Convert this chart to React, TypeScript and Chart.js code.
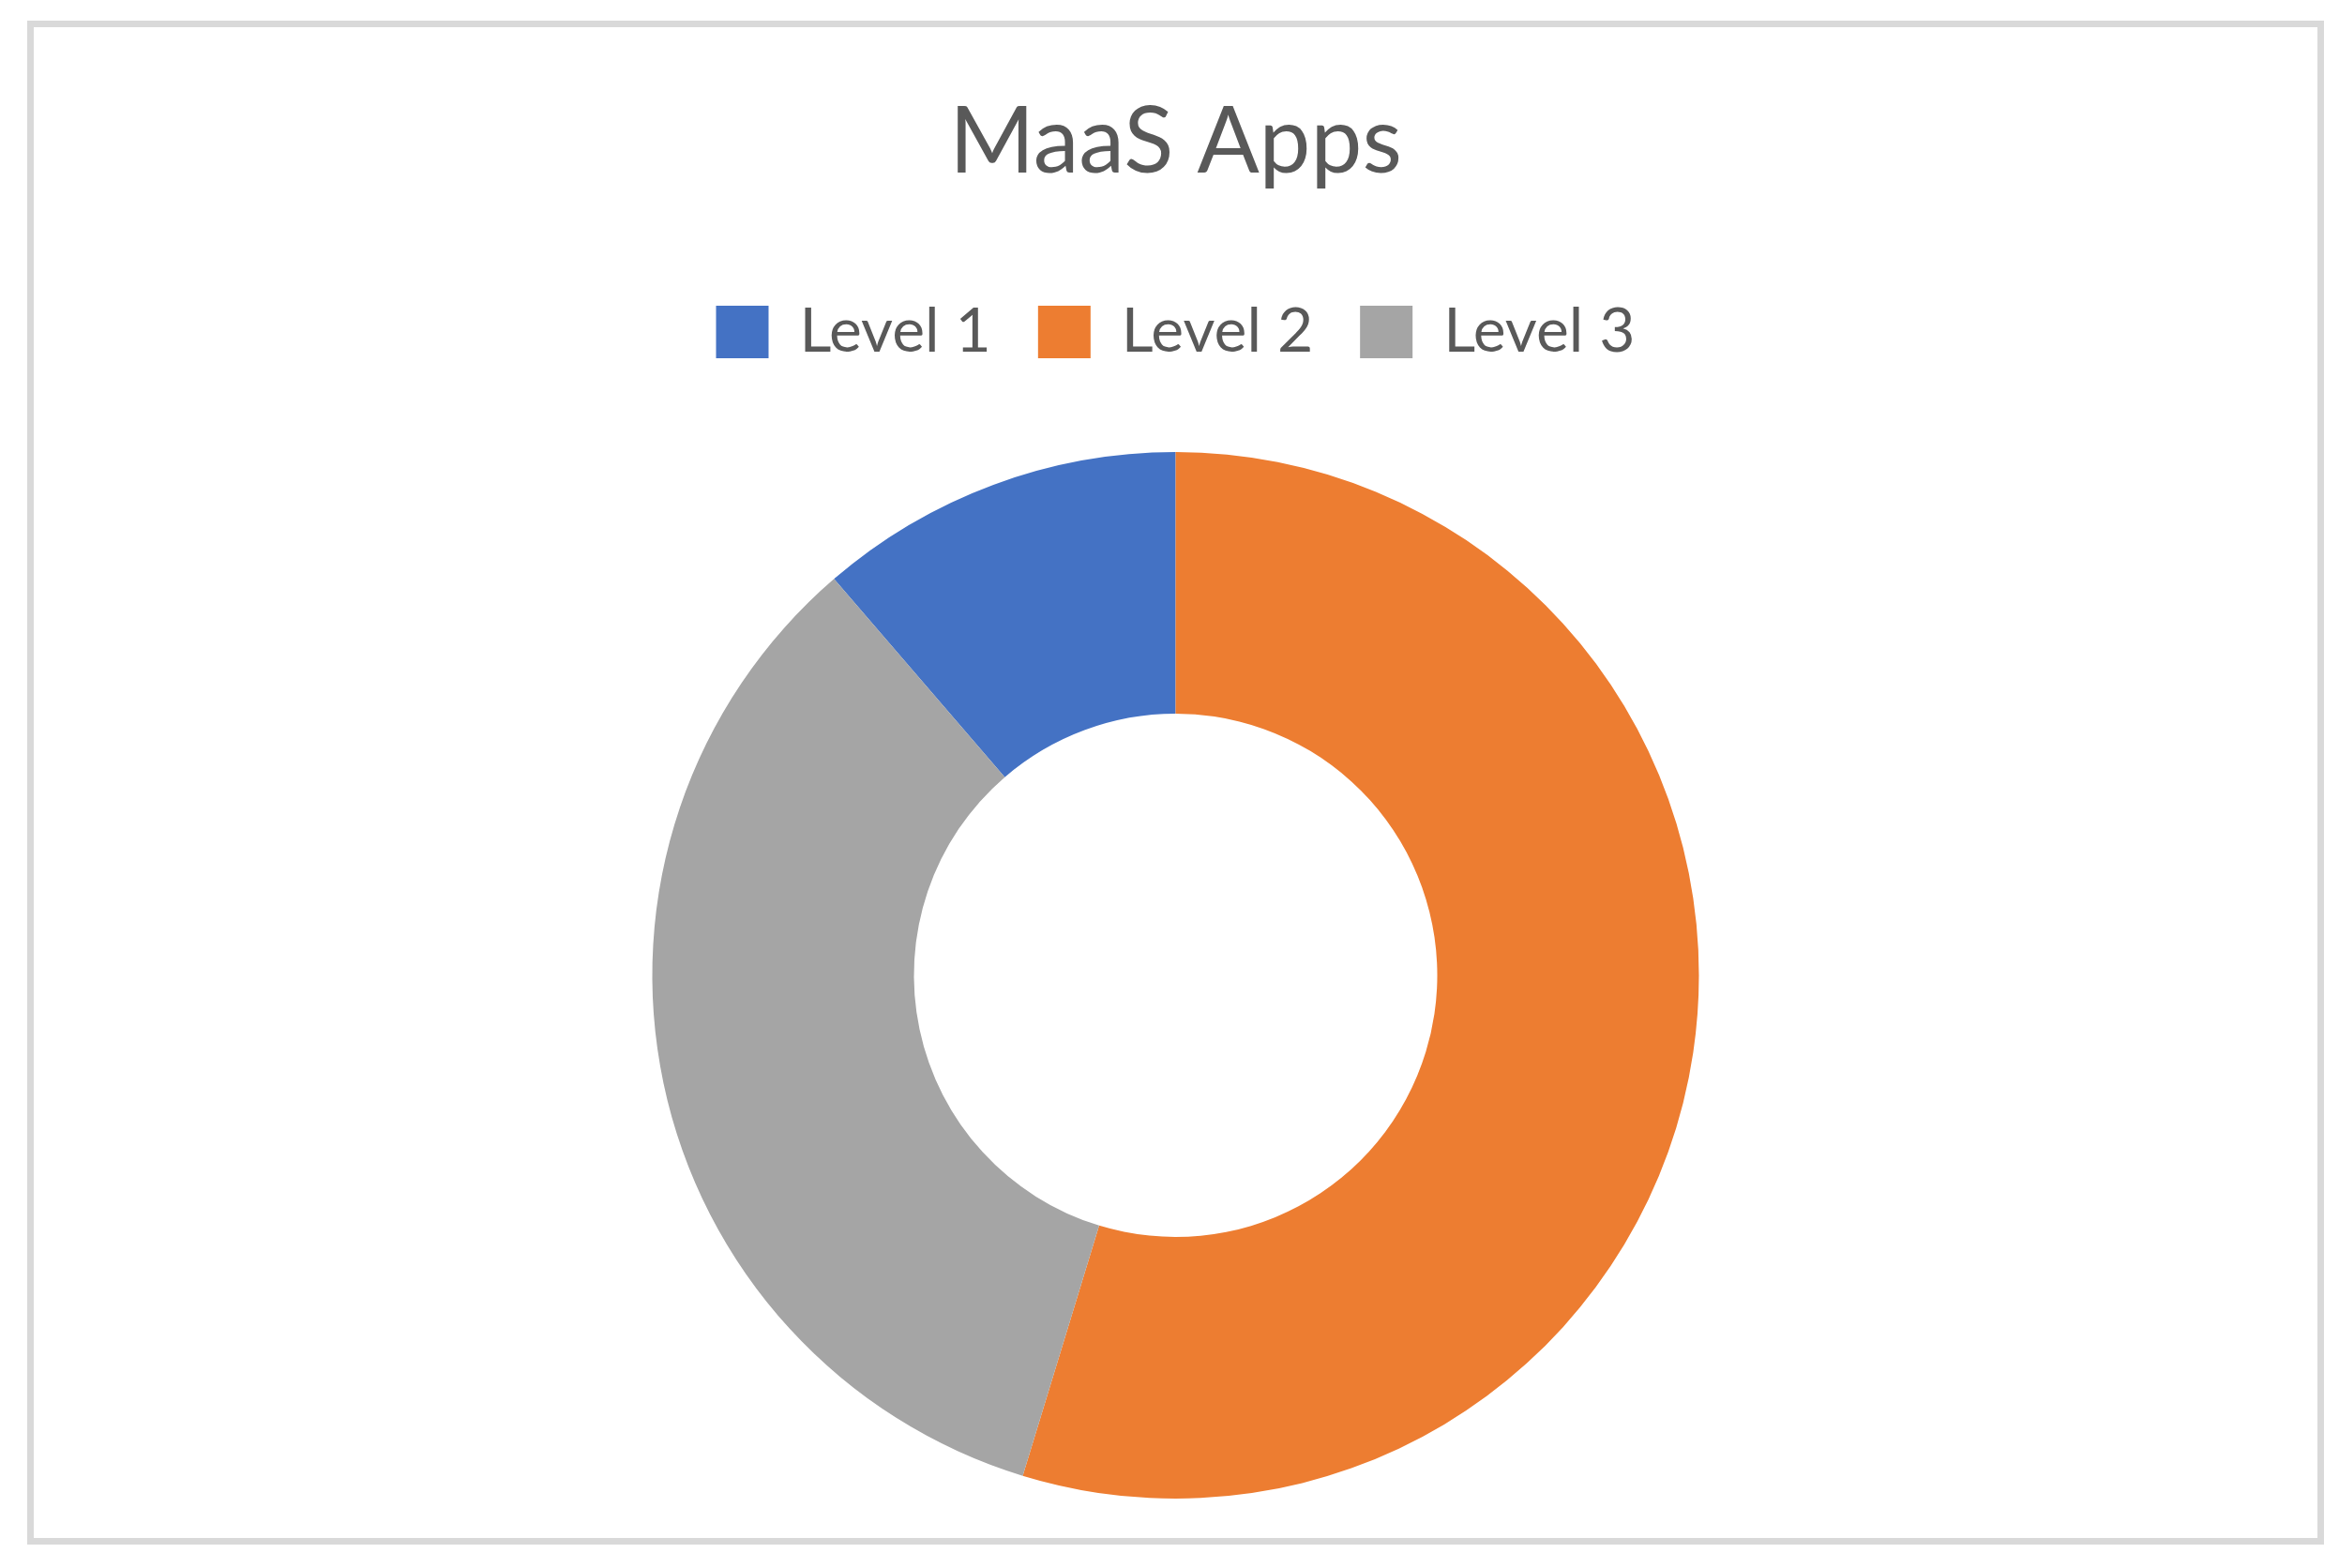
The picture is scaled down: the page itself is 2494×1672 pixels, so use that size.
import React, { useEffect, useRef } from "react";
import { Chart, registerables } from "chart.js";

Chart.register(...registerables);

const categories: string[] = ["Level 1", "Level 2", "Level 3"];
const values: number[] = [6, 29, 18];
const colors: string[] = ["#4472C4", "#ED7D31", "#A5A5A5"];
const chartTitle = "MaaS Apps";

const FONT = "Lato";
const TEXT_COLOR = "#595959";

export default function App() {
  const ref = useRef<HTMLCanvasElement | null>(null);

  useEffect(() => {
    if (!ref.current) return;
    const chart = new Chart(ref.current, {
      type: "doughnut",
      data: {
        labels: categories,
        datasets: [
          {
            data: values,
            backgroundColor: colors,
            borderWidth: 0,
          },
        ],
      },
      options: {
        responsive: false,
        animation: false,
        rotation: -40.75,
        cutout: "50%",
        layout: { padding: { top: 0, bottom: 42, left: 0, right: 0 } },
        plugins: {
          tooltip: { enabled: false },
          title: {
            display: true,
            text: chartTitle,
            color: TEXT_COLOR,
            font: { family: FONT, size: 98, weight: "normal", lineHeight: 1.2 },
            padding: { top: 65, bottom: 59.4 },
          },
          legend: {
            display: true,
            position: "top",
            labels: {
              color: TEXT_COLOR,
              font: { family: FONT, size: 66, weight: "normal" },
              boxWidth: 56,
              boxHeight: 56,
              padding: 50,
            },
          },
          subtitle: {
            display: true,
            text: "",
            weight: 500,
            font: { size: 10, lineHeight: 1.2 },
            padding: { top: 0, bottom: 73 },
          },
        },
      },
    });
    return () => chart.destroy();
  }, []);

  return (
    <div
      style={{
        position: "absolute",
        left: 29,
        top: 22,
        width: 2449,
        height: 1625,
        boxSizing: "border-box",
        border: "7px solid #d9d9d9",
        background: "#ffffff",
      }}
    >
      <canvas ref={ref} width={2435} height={1611} style={{ display: "block" }} />
    </div>
  );
}
